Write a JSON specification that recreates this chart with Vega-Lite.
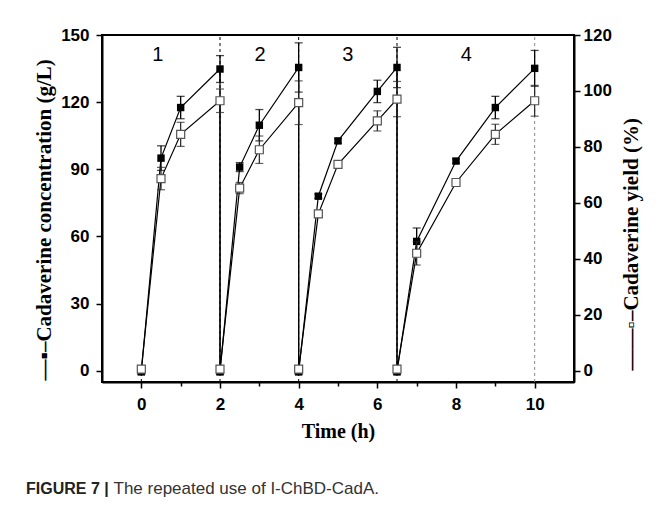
{
  "$schema": "https://vega.github.io/schema/vega-lite/v6.json",
  "width": 472,
  "height": 347,
  "autosize": "none",
  "padding": {"left": 102, "top": 35, "right": 88, "bottom": 127},
  "background": "white",
  "config": {
    "view": {"stroke": "black", "strokeWidth": 2},
    "axis": {
      "domainColor": "black", "domainWidth": 2,
      "tickColor": "black", "tickWidth": 1.5,
      "labelFont": "Liberation Sans", "labelFontWeight": "bold", "labelFontSize": 17, "labelColor": "black",
      "titleFont": "Liberation Serif", "titleFontWeight": "bold", "titleFontSize": 21, "titleColor": "black",
      "grid": false
    }
  },
  "title": {
    "text": "FIGURE 7 |",
    "orient": "bottom", "anchor": "start", "frame": "group",
    "dx": -76, "offset": -15,
    "font": "Liberation Sans", "fontSize": 16, "fontWeight": "bold", "color": "#222222"
  },
  "datasets": {
    "d": [
      {"i": 1, "t": 0, "conc": -0.5, "ce": 1, "yield": 0.6, "ye": 0.8},
      {"i": 2, "t": 0.5, "conc": 95, "ce": 5.5, "yield": 68.7, "ye": 4},
      {"i": 3, "t": 1, "conc": 117.6, "ce": 5, "yield": 84.5, "ye": 4.3},
      {"i": 4, "t": 2, "conc": 134.8, "ce": 6, "yield": 96.5, "ye": 4.2},
      {"i": 5, "t": 2, "conc": -0.5, "ce": 1, "yield": 0.6, "ye": 0.8},
      {"i": 6, "t": 2.5, "conc": 91, "ce": 2, "yield": 65.3, "ye": 2},
      {"i": 7, "t": 3, "conc": 109.7, "ce": 7, "yield": 79, "ye": 4.9},
      {"i": 8, "t": 4, "conc": 135.5, "ce": 11, "yield": 95.8, "ye": 7.8},
      {"i": 9, "t": 4, "conc": -0.5, "ce": 1, "yield": 0.6, "ye": 0.8},
      {"i": 10, "t": 4.5, "conc": 78, "ce": 1, "yield": 56.1, "ye": 1},
      {"i": 11, "t": 5, "conc": 102.7, "ce": 1, "yield": 73.8, "ye": 0.8},
      {"i": 12, "t": 6, "conc": 124.8, "ce": 5, "yield": 89.3, "ye": 3.6},
      {"i": 13, "t": 6.5, "conc": 135.5, "ce": 9, "yield": 97.1, "ye": 6.3},
      {"i": 14, "t": 6.5, "conc": -0.5, "ce": 1, "yield": 0.6, "ye": 0.8},
      {"i": 15, "t": 7, "conc": 57.8, "ce": 6, "yield": 42, "ye": 4.2},
      {"i": 16, "t": 8, "conc": 93.7, "ce": 1, "yield": 67.3, "ye": 1},
      {"i": 17, "t": 9, "conc": 117.6, "ce": 5, "yield": 84.5, "ye": 3.6},
      {"i": 18, "t": 10, "conc": 135.1, "ce": 8, "yield": 96.5, "ye": 5.5}
    ],
    "labels": [
      {"t": 0.42, "c": 141, "label": "1"},
      {"t": 3.02, "c": 141, "label": "2"},
      {"t": 5.25, "c": 141, "label": "3"},
      {"t": 8.26, "c": 141, "label": "4"}
    ],
    "cycleEnds": [{"t": 2}, {"t": 4}, {"t": 6.5}],
    "finalEnd": [{"t": 10}],
    "start": [{"t": 0}]
  },
  "layer": [
    {
      "layer": [
        {
          "data": {"name": "cycleEnds"},
          "mark": {"type": "rule", "color": "black", "strokeDash": [3, 3], "strokeWidth": 1},
          "encoding": {
            "x": {"field": "t", "type": "quantitative", "title": "Time (h)", "scale": {"domain": [-1, 11], "nice": false, "zero": false}},
            "y": {"datum": -5, "type": "quantitative", "title": "\u2014\u25aa\u2013Cadaverine concentration (g/L)", "scale": {"domain": [-5, 150], "nice": false, "zero": false}},
            "y2": {"datum": 150}
          }
        },
        {
          "data": {"name": "finalEnd"},
          "mark": {"type": "rule", "color": "#8a8a8a", "strokeDash": [3, 3], "strokeWidth": 1},
          "encoding": {
            "x": {"field": "t", "type": "quantitative", "title": "Time (h)", "scale": {"domain": [-1, 11], "nice": false, "zero": false}},
            "y": {"datum": -5, "type": "quantitative", "title": "\u2014\u25aa\u2013Cadaverine concentration (g/L)", "scale": {"domain": [-5, 150], "nice": false, "zero": false}},
            "y2": {"datum": 150}
          }
        },
        {
          "data": {"name": "start"},
          "mark": {"type": "rule", "color": "black", "strokeDash": [3, 3], "strokeWidth": 1},
          "encoding": {
            "x": {"field": "t", "type": "quantitative", "title": "Time (h)", "scale": {"domain": [-1, 11], "nice": false, "zero": false}},
            "y": {"datum": -5, "type": "quantitative", "title": "\u2014\u25aa\u2013Cadaverine concentration (g/L)", "scale": {"domain": [-5, 150], "nice": false, "zero": false}},
            "y2": {"datum": 0}
          }
        },
        {
          "data": {"name": "d"},
          "mark": {"type": "line", "color": "black", "strokeWidth": 1.2},
          "encoding": {
            "x": {
              "field": "t", "type": "quantitative", "title": "Time (h)",
              "scale": {"domain": [-1, 11], "nice": false, "zero": false},
              "axis": {
                "title": "Time (h)",
                "titleFontSize": 20,
                "values": [0, 1, 2, 3, 4, 5, 6, 7, 8, 9, 10],
                "labelExpr": "datum.value % 2 === 0 ? datum.label : ''",
                "tickSize": {"condition": {"test": "datum.value % 2 === 0", "value": 6}, "value": 4},
                "labelPadding": 8,
                "titleY": 55,
                "titleBaseline": "alphabetic"
              }
            },
            "y": {
              "field": "conc", "type": "quantitative", "title": "\u2014\u25aa\u2013Cadaverine concentration (g/L)",
              "scale": {"domain": [-5, 150], "nice": false, "zero": false},
              "axis": {
                "title": "\u2014\u25aa\u2013Cadaverine concentration (g/L)",
                "values": [0, 15, 30, 45, 60, 75, 90, 105, 120, 135, 150],
                "labelExpr": "datum.value % 30 === 0 ? datum.label : ''",
                "tickSize": {"condition": {"test": "datum.value % 30 === 0", "value": 6}, "value": 3},
                "labelPadding": 7,
                "titleAngle": 270,
                "titleAlign": "left",
                "titleBaseline": "alphabetic",
                "titleX": -52,
                "titleY": 345
              }
            },
            "order": {"field": "i", "type": "quantitative"}
          }
        },
        {
          "data": {"name": "d"},
          "mark": {"type": "errorbar", "color": "black", "ticks": {"size": 8, "thickness": 1.3}, "rule": {"strokeWidth": 1.3}},
          "encoding": {
            "x": {"field": "t", "type": "quantitative", "title": "Time (h)", "scale": {"domain": [-1, 11], "nice": false, "zero": false}},
            "y": {"field": "conc", "type": "quantitative", "title": "\u2014\u25aa\u2013Cadaverine concentration (g/L)", "scale": {"domain": [-5, 150], "nice": false, "zero": false}},
            "yError": {"field": "ce"}
          }
        },
        {
          "data": {"name": "d"},
          "mark": {"type": "square", "color": "black", "size": 55, "opacity": 1},
          "encoding": {
            "x": {"field": "t", "type": "quantitative", "title": "Time (h)", "scale": {"domain": [-1, 11], "nice": false, "zero": false}},
            "y": {"field": "conc", "type": "quantitative", "title": "\u2014\u25aa\u2013Cadaverine concentration (g/L)", "scale": {"domain": [-5, 150], "nice": false, "zero": false}}
          }
        },
        {
          "data": {"name": "labels"},
          "mark": {"type": "text", "font": "Liberation Sans", "fontSize": 20, "color": "black", "baseline": "middle", "align": "center"},
          "encoding": {
            "x": {"field": "t", "type": "quantitative", "title": "Time (h)", "scale": {"domain": [-1, 11], "nice": false, "zero": false}},
            "y": {"field": "c", "type": "quantitative", "title": "\u2014\u25aa\u2013Cadaverine concentration (g/L)", "scale": {"domain": [-5, 150], "nice": false, "zero": false}},
            "text": {"field": "label"}
          }
        }
      ]
    },
    {
      "data": {"name": "d"},
      "layer": [
        {
          "mark": {"type": "line", "color": "black", "strokeWidth": 1.2},
          "encoding": {
            "x": {
              "field": "t", "type": "quantitative", "title": "The repeated use of I-ChBD-CadA.",
              "scale": {"domain": [-1, 11], "nice": false, "zero": false},
              "axis": {
                "orient": "bottom",
                "domain": false, "ticks": false, "labels": false, "grid": false,
                "title": "The repeated use of I-ChBD-CadA.",
                "titleFont": "Liberation Sans", "titleFontWeight": "normal", "titleFontSize": 17, "titleColor": "#333333",
                "titleX": 11, "titleY": 111,
                "titleAlign": "left", "titleAnchor": "start", "titleBaseline": "alphabetic"
              }
            },
            "y": {
              "field": "yield", "type": "quantitative", "title": "\u2014\u2014\u25ab\u2013Cadaverine yield (%)",
              "scale": {"domain": [-4, 120], "nice": false, "zero": false},
              "axis": {
                "orient": "right",
                "title": "\u2014\u2014\u25ab\u2013Cadaverine yield (%)",
                "values": [0, 10, 20, 30, 40, 50, 60, 70, 80, 90, 100, 110, 120],
                "labelExpr": "datum.value % 20 === 0 ? datum.label : ''",
                "tickSize": {"condition": {"test": "datum.value % 20 === 0", "value": 6}, "value": 3},
                "labelPadding": 3,
                "titleAngle": 270,
                "titleAlign": "left",
                "titleBaseline": "alphabetic",
                "titleX": 63,
                "titleY": 335
              }
            },
            "order": {"field": "i", "type": "quantitative"}
          }
        },
        {
          "mark": {"type": "errorbar", "color": "#222222", "ticks": {"size": 8, "thickness": 1.2}, "rule": {"strokeWidth": 1.2}},
          "encoding": {
            "x": {"field": "t", "type": "quantitative", "title": "The repeated use of I-ChBD-CadA.", "scale": {"domain": [-1, 11], "nice": false, "zero": false}},
            "y": {"field": "yield", "type": "quantitative", "title": "\u2014\u2014\u25ab\u2013Cadaverine yield (%)", "scale": {"domain": [-4, 120], "nice": false, "zero": false}},
            "yError": {"field": "ye"}
          }
        },
        {
          "mark": {"type": "point", "shape": "square", "filled": false, "fill": "white", "fillOpacity": 1, "stroke": "#555555", "strokeWidth": 1.2, "size": 64, "opacity": 1},
          "encoding": {
            "x": {"field": "t", "type": "quantitative", "title": "The repeated use of I-ChBD-CadA.", "scale": {"domain": [-1, 11], "nice": false, "zero": false}},
            "y": {"field": "yield", "type": "quantitative", "title": "\u2014\u2014\u25ab\u2013Cadaverine yield (%)", "scale": {"domain": [-4, 120], "nice": false, "zero": false}}
          }
        }
      ]
    }
  ],
  "resolve": {"scale": {"y": "independent"}, "axis": {"y": "independent", "x": "independent"}}
}
